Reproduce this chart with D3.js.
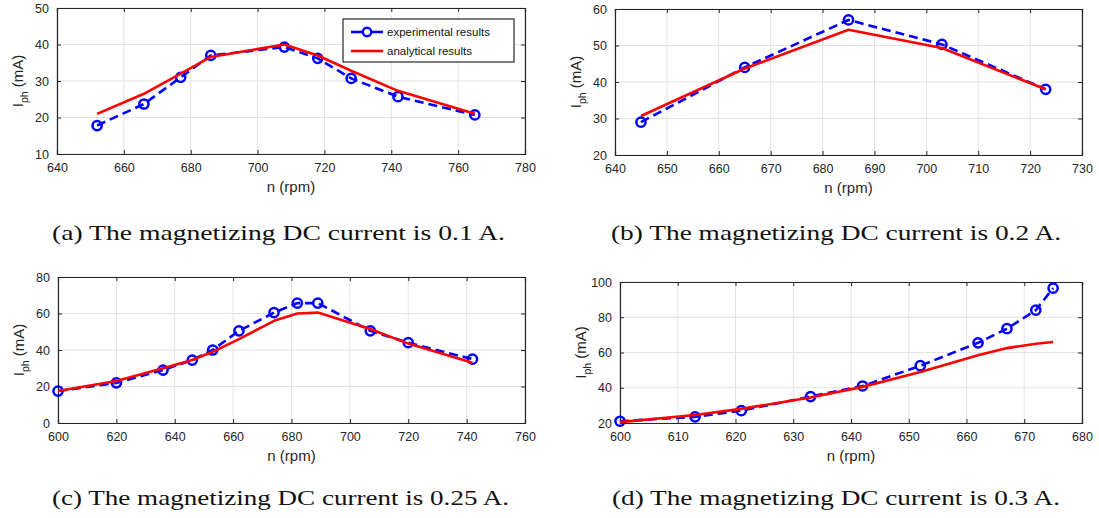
<!DOCTYPE html>
<html>
<head>
<meta charset="utf-8">
<script src="https://cdn.jsdelivr.net/npm/d3@7"></script>
<style>
  body { margin: 0; background: #fff; }
  svg .sans { font-family: "Liberation Sans", Arial, sans-serif; }
  svg .cap { font-family: "Liberation Serif", "Times New Roman", serif; }
</style>
</head>
<body>
<svg id="fig" width="1099" height="518"></svg>
<script>
// ---- measured phase current vs. speed, four excitation levels ----
// (a) 0.1 A
const speedA = [652, 666, 677, 686, 708, 718, 728, 742, 765];
const expA   = [17.8, 23.7, 31.0, 37.0, 39.3, 36.2, 30.7, 25.7, 20.7];
const anaA   = [21.0, 26.5, 32.0, 36.6, 40.0, 37.0, 32.8, 27.3, 21.0];
const xTicksA = [640, 660, 680, 700, 720, 740, 760, 780];
const yTicksA = [10, 20, 30, 40, 50];

// (b) 0.2 A
const speedB = [645, 665, 685, 703, 723];
const expB   = [29.0, 44.0, 57.0, 50.3, 38.0];
const anaB   = [30.7, 43.7, 54.3, 49.3, 38.0];
const xTicksB = [640, 650, 660, 670, 680, 690, 700, 710, 720, 730];
const yTicksB = [20, 30, 40, 50, 60];

// (c) 0.25 A
const speedC = [600, 620, 636, 646, 653, 662, 674, 682, 689, 707, 720, 742];
const expC   = [17.5, 22.0, 29.0, 34.5, 40.0, 50.5, 60.5, 65.7, 65.7, 50.5, 44.0, 35.0];
const anaC   = [17.5, 23.0, 30.0, 34.5, 39.0, 46.0, 56.0, 60.0, 60.5, 51.5, 43.5, 33.0];
const xTicksC = [600, 620, 640, 660, 680, 700, 720, 740, 760];
const yTicksC = [0, 20, 40, 60, 80];

// (d) 0.3 A
const speedD = [600, 613, 621, 633, 642, 652, 662, 667, 672, 675];
const expD   = [21.0, 23.5, 27.0, 35.0, 41.0, 52.5, 65.5, 73.5, 84.0, 96.5];
const anaD   = [20.5, 24.5, 28.0, 34.5, 40.5, 49.0, 58.5, 62.5, 65.0, 66.0];
const xTicksD = [600, 610, 620, 630, 640, 650, 660, 670, 680];
const yTicksD = [20, 40, 60, 80, 100];

const captions = [
  "(a) The magnetizing DC current is 0.1 A.",
  "(b) The magnetizing DC current is 0.2 A.",
  "(c) The magnetizing DC current is 0.25 A.",
  "(d) The magnetizing DC current is 0.3 A."
];
const seriesNames = ["experimental results", "analytical results"];

// ---- layout of the four sub-figures ----
const panels = [
  { n: speedA, exp: expA, ana: anaA, xt: xTicksA, yt: yTicksA, cap: captions[0],
    box: { l: 57, t: 8, r: 525, b: 154 }, capX: 52, capY: 240, capW: 453, legend: true },
  { n: speedB, exp: expB, ana: anaB, xt: xTicksB, yt: yTicksB, cap: captions[1],
    box: { l: 615, t: 9, r: 1082, b: 155 }, capX: 611, capY: 240, capW: 450 },
  { n: speedC, exp: expC, ana: anaC, xt: xTicksC, yt: yTicksC, cap: captions[2],
    box: { l: 58, t: 277, r: 525, b: 423 }, capX: 52, capY: 505, capW: 457 },
  { n: speedD, exp: expD, ana: anaD, xt: xTicksD, yt: yTicksD, cap: captions[3],
    box: { l: 620, t: 282, r: 1082, b: 423 }, capX: 612, capY: 505, capW: 448 }
];

const AXIS = "#262626";
const GRID = "#e3e3e3";
const BLUE = "#0000ff";
const RED  = "#ff0000";

const svg = d3.select("#fig");

panels.forEach(p => {
  const { l, t, r, b } = p.box;
  const x = d3.scaleLinear().domain(d3.extent(p.xt)).range([l, r]);
  const y = d3.scaleLinear().domain(d3.extent(p.yt)).range([b, t]);
  const g = svg.append("g").attr("class", "sans");

  // grid
  g.append("g").selectAll("line").data(p.xt).join("line")
    .attr("x1", d => x(d)).attr("x2", d => x(d)).attr("y1", t).attr("y2", b)
    .attr("stroke", GRID).attr("stroke-width", 1);
  g.append("g").selectAll("line").data(p.yt).join("line")
    .attr("y1", d => y(d)).attr("y2", d => y(d)).attr("x1", l).attr("x2", r)
    .attr("stroke", GRID).attr("stroke-width", 1);

  // axes with inward ticks on all four sides
  const axB = d3.axisBottom(x).tickValues(p.xt).tickSize(-4).tickPadding(9).tickFormat(d3.format("d"));
  const axL = d3.axisLeft(y).tickValues(p.yt).tickSize(-4).tickPadding(8).tickFormat(d3.format("d"));
  const axT = d3.axisTop(x).tickValues(p.xt).tickSize(-4).tickFormat("");
  const axR = d3.axisRight(y).tickValues(p.yt).tickSize(-4).tickFormat("");
  const style = sel => {
    sel.attr("font-family", null);
    sel.select(".domain").attr("stroke", AXIS).attr("stroke-width", 1.2);
    sel.selectAll(".tick line").attr("stroke", AXIS);
    sel.selectAll(".tick text").attr("fill", AXIS).attr("font-size", 12.5);
  };
  g.append("g").attr("transform", `translate(0,${b})`).call(axB).call(style);
  g.append("g").attr("transform", `translate(${l},0)`).call(axL).call(style);
  g.append("g").attr("transform", `translate(0,${t})`).call(axT).call(style);
  g.append("g").attr("transform", `translate(${r},0)`).call(axR).call(style);

  // axis titles
  g.append("text").attr("x", (l + r) / 2).attr("y", b + 38)
    .attr("text-anchor", "middle").attr("font-size", 15).attr("fill", AXIS)
    .text("n (rpm)");
  const yl = g.append("text")
    .attr("transform", `translate(${l - 34},${(t + b) / 2}) rotate(-90)`)
    .attr("text-anchor", "middle").attr("font-size", 15).attr("fill", AXIS);
  yl.append("tspan").text("I");
  yl.append("tspan").attr("font-size", 10.5).attr("dy", 5).text("ph");
  yl.append("tspan").attr("dy", -5).text(" (mA)");

  const pts = (xs, ys) => xs.map((v, i) => [v, ys[i]]);
  const line = d3.line().x(d => x(d[0])).y(d => y(d[1]));

  // experimental: dashed blue with open circles
  g.append("path").datum(pts(p.n, p.exp)).attr("d", line)
    .attr("fill", "none").attr("stroke", BLUE).attr("stroke-width", 2.6)
    .attr("stroke-dasharray", "9,5");
  g.append("g").selectAll("circle").data(pts(p.n, p.exp)).join("circle")
    .attr("cx", d => x(d[0])).attr("cy", d => y(d[1])).attr("r", 4.6)
    .attr("fill", "none").attr("stroke", BLUE).attr("stroke-width", 2.5);

  // analytical: solid red
  g.append("path").datum(pts(p.n, p.ana)).attr("d", line)
    .attr("fill", "none").attr("stroke", RED).attr("stroke-width", 2.6)
    .attr("stroke-linejoin", "round");

  // legend
  if (p.legend) {
    const lg = g.append("g").attr("transform", "translate(343,19)");
    lg.append("rect").attr("width", 171).attr("height", 43)
      .attr("fill", "#fff").attr("stroke", AXIS).attr("stroke-width", 1.2);
    lg.append("line").attr("x1", 8).attr("x2", 40).attr("y1", 13).attr("y2", 13)
      .attr("stroke", BLUE).attr("stroke-width", 2.6);
    lg.append("circle").attr("cx", 24).attr("cy", 13).attr("r", 4.2)
      .attr("fill", "#fff").attr("stroke", BLUE).attr("stroke-width", 2.4);
    lg.append("line").attr("x1", 8).attr("x2", 40).attr("y1", 32).attr("y2", 32)
      .attr("stroke", RED).attr("stroke-width", 2.6);
    lg.selectAll("text").data(seriesNames).join("text")
      .attr("x", 44).attr("y", (d, i) => 17 + i * 19)
      .attr("font-size", 11.5).attr("fill", "#111").text(d => d);
  }

  // caption
  svg.append("text").attr("class", "cap").attr("x", p.capX).attr("y", p.capY)
    .attr("font-size", 22).attr("fill", "#111")
    .attr("textLength", p.capW).attr("lengthAdjust", "spacingAndGlyphs")
    .text(p.cap);
});
</script>
</body>
</html>
